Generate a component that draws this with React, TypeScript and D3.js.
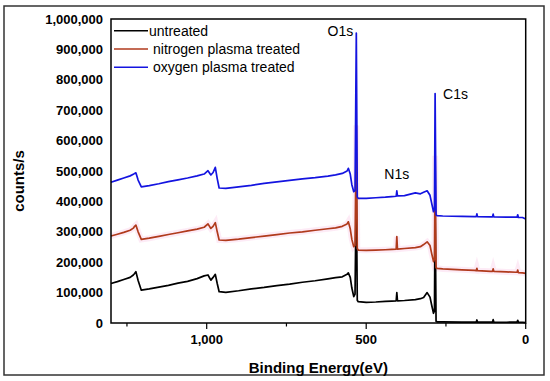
import React from 'react';
import * as d3 from 'd3';

// binding energies (eV), shared by all three spectra
const energies = [1300, 1280, 1260, 1240, 1230, 1226, 1222, 1215, 1205, 1180, 1150, 1120, 1090, 1060, 1030, 1008, 996, 987, 980, 973, 967, 961, 940, 900, 860, 820, 780, 740, 700, 660, 620, 596, 575, 560, 556, 550, 545, 539, 535, 531, 528, 525, 500, 470, 440, 420, 406, 404, 402, 380, 346, 330, 320, 309, 300, 295, 289, 286, 284, 281, 278, 260, 200, 160, 155, 153, 151, 110, 104, 102, 100, 60, 30, 27, 25, 23, 10, 0];

const untreated = [130000, 136000, 143000, 150000, 158000, 163000, 169000, 140000, 108000, 112000, 118000, 124000, 131000, 137000, 146000, 155000, 158000, 141000, 150000, 160000, 130000, 103000, 101000, 106000, 112000, 117000, 123000, 128000, 134000, 139000, 145000, 149000, 152000, 160000, 165000, 150000, 115000, 87000, 95000, 450000, 75000, 70000, 68000, 69000, 71000, 72000, 73000, 100000, 73000, 74000, 77000, 80000, 84000, 100000, 85000, 60000, 32000, 40000, 400000, 6000, 4000, 3500, 3000, 3000, 3000, 10000, 3000, 3000, 3000, 11000, 3000, 2500, 3000, 3000, 9000, 3000, 2500, 1000];

const nitrogen = [286000, 292000, 298000, 305000, 312000, 318000, 322000, 300000, 275000, 279000, 285000, 291000, 297000, 303000, 309000, 315000, 326000, 311000, 318000, 330000, 300000, 273000, 272000, 276000, 281000, 286000, 291000, 296000, 300000, 305000, 310000, 313000, 318000, 326000, 333000, 310000, 275000, 251000, 255000, 650000, 245000, 240000, 239000, 240000, 241000, 242000, 243000, 284000, 243000, 245000, 248000, 251000, 258000, 267000, 255000, 230000, 202000, 210000, 550000, 182000, 180000, 178000, 175000, 173000, 172000, 180000, 172000, 170000, 170000, 178000, 170000, 168000, 167000, 167000, 174000, 166000, 165000, 163000];

const oxygen = [463000, 470000, 477000, 484000, 489000, 492000, 494000, 470000, 448000, 452000, 458000, 465000, 471000, 477000, 484000, 490000, 501000, 487000, 495000, 512000, 475000, 444000, 443000, 448000, 453000, 459000, 464000, 469000, 474000, 478000, 483000, 487000, 492000, 500000, 509000, 490000, 455000, 432000, 435000, 954000, 415000, 410000, 410000, 412000, 414000, 416000, 417000, 435000, 418000, 419000, 428000, 425000, 430000, 435000, 420000, 395000, 366000, 375000, 755000, 356000, 353000, 352000, 351000, 350000, 350000, 359000, 350000, 349000, 349000, 358000, 349000, 348000, 348000, 348000, 356000, 347000, 347000, 342000];

const seriesNames = ['untreated', 'nitrogen plasma treated', 'oxygen plasma treated'];
const seriesColors = ['#000000', '#b03a1c', '#1414e0'];

const yTicks = [0, 100000, 200000, 300000, 400000, 500000, 600000, 700000, 800000, 900000, 1000000];
const xMinorTicks = [1250, 1000, 750, 500, 250, 0];
const xLabelTicks = [1000, 500, 0];

const peakLabels = [
  { name: 'O1s', energy: 531, value: 954000 },
  { name: 'N1s', energy: 404, value: 435000 },
  { name: 'C1s', energy: 284, value: 755000 },
];

const width = 550;
const height = 381;
const margin = { top: 19, right: 24.3, bottom: 58, left: 111 };
const font = '"Liberation Sans", Arial, sans-serif';

export default function App() {
  const innerW = width - margin.left - margin.right;
  const innerH = height - margin.top - margin.bottom;

  const x = d3.scaleLinear().domain([1300, 0]).range([0, innerW]);
  const y = d3.scaleLinear().domain([0, 1000000]).range([innerH, 0]);
  const fmt = d3.format(',');

  const line = d3.line<number>()
    .x((d, i) => x(energies[i]))
    .y(d => y(d));

  const all = [untreated, nitrogen, oxygen];

  return (
    <svg width={width} height={height} style={{ position: 'absolute', left: 0, top: 0, background: '#fff' }}>
      <rect x={4} y={6} width={540} height={369} fill="none" stroke="#333" strokeWidth={1.5} />
      <g transform={`translate(${margin.left},${margin.top})`} fontFamily={font}>
        {/* faint pink halo around the red trace */}
        <path d={line(nitrogen) || ''} fill="none" stroke="#fbd3ea" strokeWidth={6} opacity={0.45} />
        {all.map((s, i) => (
          <path key={i} d={line(s) || ''} fill="none" stroke={seriesColors[i]} strokeWidth={1.7} strokeLinejoin="round" />
        ))}
        <rect x={0} y={0} width={innerW} height={innerH} fill="none" stroke="#000" strokeWidth={1.5} />

        {yTicks.map(t => (
          <text key={t} x={-8} y={y(t)} dy="0.35em" textAnchor="end" fontSize={13} fontWeight="bold">{fmt(t)}</text>
        ))}
        {xMinorTicks.map(t => (
          <line key={t} x1={x(t)} x2={x(t)} y1={innerH} y2={innerH + (xLabelTicks.includes(t) ? 6 : 3.5)} stroke="#000" strokeWidth={1.2} />
        ))}
        {xLabelTicks.map(t => (
          <text key={t} x={x(t)} y={innerH + 21} textAnchor="middle" fontSize={13} fontWeight="bold">{fmt(t)}</text>
        ))}

        <text x={innerW / 2} y={innerH + 50} textAnchor="middle" fontSize={15} fontWeight="bold">Binding Energy(eV)</text>
        <text transform={`translate(${19 - margin.left},${181 - margin.top}) rotate(-90)`} dy="0.35em" textAnchor="middle" fontSize={15} fontWeight="bold">counts/s</text>

        {seriesNames.map((n, i) => (
          <g key={n} transform={`translate(3,${11.7 + i * 18.3})`}>
            <line x1={0} x2={34} y1={0} y2={0} stroke={seriesColors[i]} strokeWidth={1.5} />
            <text x={i === 0 ? 35 : 39} y={0} dy="0.35em" fontSize={14}>{n}</text>
          </g>
        ))}

        {peakLabels.map(p => (
          <text key={p.name}
            x={p.name === 'N1s' ? x(p.energy) : x(p.energy) - (p.name === 'O1s' ? 3 : -8)}
            y={p.name === 'N1s' ? y(p.value) - 12 : y(p.value) + (p.name === 'O1s' ? 3 : 6)}
            textAnchor={p.name === 'O1s' ? 'end' : p.name === 'N1s' ? 'middle' : 'start'}
            fontSize={14}>{p.name}</text>
        ))}
      </g>
    </svg>
  );
}
